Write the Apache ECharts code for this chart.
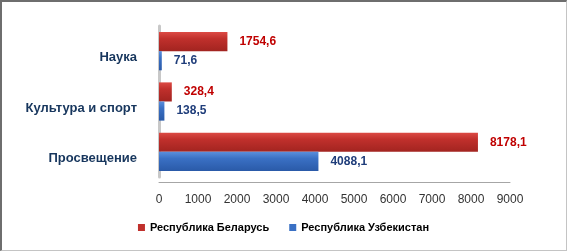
<!DOCTYPE html>
<html><head><meta charset="utf-8">
<script src="https://cdn.jsdelivr.net/npm/echarts@6/dist/echarts.min.js"></script>
<style>
html,body{margin:0;padding:0;background:#fff;}
#frame{position:absolute;left:0;top:0;width:564px;height:248px;border-top:2px solid #6e6e6e;border-left:2px solid #6e6e6e;border-right:1px solid #c4c4c4;border-bottom:1px solid #c4c4c4;}
#c{position:absolute;left:0;top:0;width:567px;height:251px;}
</style></head>
<body><div id="frame"></div><div id="c"></div>
<script>
const categories = ['Просвещение', 'Культура и спорт', 'Наука'];
const belarus = [8178.1, 328.4, 1754.6];
const uzbekistan = [4088.1, 138.5, 71.6];
const seriesNames = ['Республика Беларусь', 'Республика Узбекистан'];
const xTicks = {min: 0, max: 9000, interval: 1000};

const chart = echarts.init(document.getElementById('c'), null, {renderer: 'canvas'});
const fmt = p => String(p.value).replace('.', ',');
const grad = (a, b, c) => new echarts.graphic.LinearGradient(0, 0, 0, 1, [
  {offset: 0, color: a}, {offset: 0.35, color: b}, {offset: 1, color: c}]);
chart.setOption({
  animation: false,
  backgroundColor: 'transparent',
  grid: {left: 159, top: 26, width: 351, height: 151},
  legend: {
    data: [{name: seriesNames[0], itemStyle: {color: '#C0302C'}}, {name: seriesNames[1], itemStyle: {color: '#3A70C4'}}],
    bottom: 13, left: 'center', itemWidth: 7, itemHeight: 7, itemGap: 20,
    icon: 'rect',
    textStyle: {fontFamily: 'Liberation Sans', fontWeight: 'bold', fontSize: 11, color: '#000'}
  },
  xAxis: {
    type: 'value', min: xTicks.min, max: xTicks.max, interval: xTicks.interval,
    offset: 5,
    axisLine: {show: true, lineStyle: {color: '#a6a6a6'}},
    axisTick: {show: false},
    splitLine: {show: false},
    axisLabel: {margin: 12, fontFamily: 'Liberation Sans', fontSize: 12, color: '#333', formatter: v => String(v)}
  },
  yAxis: {
    type: 'category', data: categories,
    axisLine: {show: true, lineStyle: {color: '#c8c8c8', width: 3}},
    axisTick: {show: false},
    axisLabel: {margin: 22, verticalAlign: 'top', lineHeight: 13, fontFamily: 'Liberation Sans', fontWeight: 'bold', fontSize: 13, color: '#17365D'}
  },
  series: [
    {
      name: seriesNames[0], type: 'bar', data: belarus, barGap: '0%', barCategoryGap: '24%',
      itemStyle: {color: grad('#DC4A44', '#C0302C', '#A22420')},
      label: {show: true, position: 'right', distance: 12, formatter: fmt,
        fontFamily: 'Liberation Sans', fontWeight: 'bold', fontSize: 12, color: '#C00000'}
    },
    {
      name: seriesNames[1], type: 'bar', data: uzbekistan, barGap: '0%', barCategoryGap: '24%',
      itemStyle: {color: grad('#5A8FDC', '#3A70C4', '#2A5AA8')},
      label: {show: true, position: 'right', distance: 12, formatter: fmt,
        fontFamily: 'Liberation Sans', fontWeight: 'bold', fontSize: 12, color: '#1F3D7A'}
    }
  ]
});
</script></body></html>
